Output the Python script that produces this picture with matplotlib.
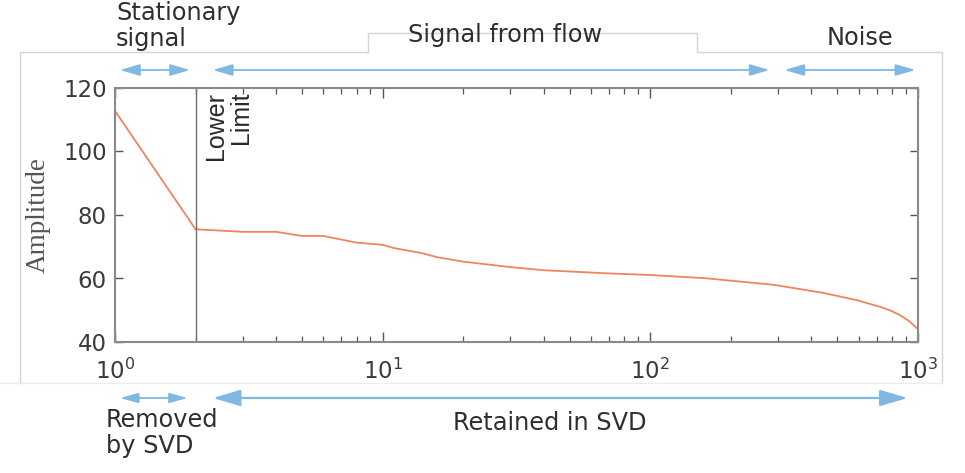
import matplotlib
matplotlib.use("Agg")
import matplotlib.pyplot as plt
from matplotlib.lines import Line2D
from matplotlib.ticker import LogLocator, FixedLocator, NullFormatter

# Singular value spectrum (component index vs. amplitude)
component = [1, 2, 3, 4, 5, 6, 8, 10, 11, 14, 16, 20, 30, 40, 70,
             100, 160, 290, 440, 590, 720, 790, 855, 930, 1000]
amplitude = [112.8, 75.5, 74.7, 74.7, 73.4, 73.4, 71.3, 70.6, 69.6, 68.0,
             66.7, 65.3, 63.6, 62.6, 61.6, 61.1, 60.1, 58.0, 55.5, 53.2,
             51.1, 49.9, 48.5, 46.5, 44.0]

lower_limit = 2
y_ticks = [40, 60, 80, 100, 120]
y_range = (40, 120)
x_range = (1, 1000)

W, H = 965, 473
fig = plt.figure(figsize=(W / 100, H / 100), dpi=100)
fig.patch.set_facecolor("white")


def fx(px):
    return px / W


def fy(py):
    return 1 - py / H


# light panel outline behind the plot
outline_x = [20, 20, 368, 368, 697, 697, 942, 942]
outline_y = [383, 52, 52, 33, 33, 52, 52, 383]
fig.add_artist(Line2D([fx(v) for v in outline_x], [fy(v) for v in outline_y],
                      transform=fig.transFigure, color="#d4d4d4", lw=1.0))
fig.add_artist(Line2D([fx(0), fx(942)], [fy(383), fy(383)],
                      transform=fig.transFigure, color="#ececec", lw=1.0))

ax = fig.add_axes([fx(115), fy(342), fx(918) - fx(115), fy(88) - fy(342)])
ax.plot(component, amplitude, color="#ef8560", lw=1.3)
ax.axvline(lower_limit, color="#707070", lw=1.0)

ax.set_xscale("log")
ax.set_xlim(*x_range)
ax.set_ylim(*y_range)
ax.yaxis.set_major_locator(FixedLocator(y_ticks))
ax.xaxis.set_major_locator(LogLocator(base=10, numticks=10))
ax.xaxis.set_minor_locator(LogLocator(base=10, subs=range(2, 10), numticks=10))
ax.xaxis.set_minor_formatter(NullFormatter())

spine_col = "#8a8a8a"
for s in ax.spines.values():
    s.set_color(spine_col)
    s.set_linewidth(1.5)
ax.tick_params(which="both", direction="in", top=True, right=True,
               color="#555555", labelcolor="#3a3a3a", labelsize=16.5)
ax.tick_params(axis="x", which="major", length=7, width=1.0, pad=12)
ax.tick_params(axis="x", which="minor", length=4, width=0.9)
ax.tick_params(axis="y", which="major", length=6, width=1.0, pad=6)

ax.set_ylabel("Amplitude", family="Liberation Serif", fontsize=19.5,
              color="#555555", labelpad=9)

ax.text(2.15, 118.8, "Lower\nLimit", rotation=90, ha="left", va="top",
        multialignment="right", fontsize=18, family="Liberation Sans",
        color="#2a2a2a", linespacing=1.05)

# region arrows above and below the axes
arrow_col = "#7fb8e0"


def span(x0, x1, yfrac, hl, hw, lw=1.3):
    ax.annotate("", xy=(x1, yfrac), xytext=(x0, yfrac),
                xycoords=("data", "axes fraction"),
                textcoords=("data", "axes fraction"),
                arrowprops=dict(arrowstyle=f"<|-|>,head_length={hl},head_width={hw}",
                                color=arrow_col, lw=lw, shrinkA=0, shrinkB=0),
                annotation_clip=False)


top_y = (342 - 70) / 254
bot_y = (342 - 398) / 254
span(1.044, 1.906, top_y, 1.2, 0.35)
span(2.32, 279, top_y, 1.2, 0.35)
span(317, 978, top_y, 1.2, 0.35)
span(1.044, 1.87, bot_y, 1.1, 0.3)
span(2.32, 915, bot_y, 1.7, 0.5, lw=1.6)

txt_col = "#2e2e2e"
fs = 17.3
fig.text(fx(116), fy(1), "Stationary\nsignal", ha="left", va="top",
         fontsize=fs, color=txt_col, linespacing=1.1)
fig.text(fx(505), fy(35), "Signal from flow", ha="center", va="center",
         fontsize=fs, color=txt_col)
fig.text(fx(860), fy(38), "Noise", ha="center", va="center",
         fontsize=fs, color=txt_col)
fig.text(fx(106), fy(408), "Removed\nby SVD", ha="left", va="top",
         fontsize=fs, color=txt_col, linespacing=1.1)
fig.text(fx(550), fy(423), "Retained in SVD", ha="center", va="center",
         fontsize=fs, color=txt_col)

fig.savefig("out.png", dpi=100, facecolor="white")
